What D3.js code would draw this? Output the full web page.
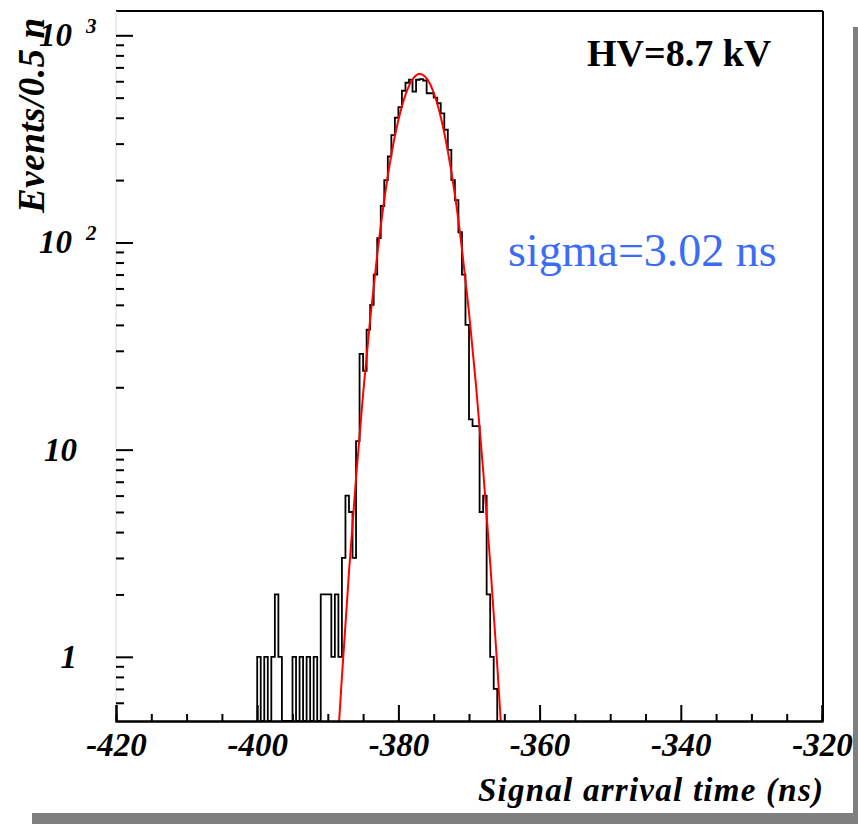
<!DOCTYPE html>
<html lang="en">
<head>
<meta charset="UTF-8">
<title>Signal arrival time</title>
<style>
  body { margin: 0; background: #fff; }
  svg { display: block; }
  text { font-family: "Liberation Serif", "DejaVu Serif", serif; }
</style>
</head>
<body>
<script src="https://cdnjs.cloudflare.com/ajax/libs/d3/7.8.2/d3.min.js"></script>
<script>
// histogram: 0.5 ns bins, first listed bin starts at -400 ns
const binWidth = 0.5;
const firstBinLow = -400;
const counts = [
  1, 0, 1, 0, 1, 2, 1, 0, 0, 0,        // -400 .. -395.5
  1, 0, 1, 0, 1, 0, 1, 0, 2, 2,        // -395 .. -390.5
  2, 1, 2, 1, 3, 6, 5, 3, 11, 29,      // -390 .. -385.5
  24, 38, 50, 70, 105, 150, 200, 260, 330, 400,   // -385 .. -380.5
  450, 540, 590, 610, 535, 610, 615, 605, 525, 525, // -380 .. -375.5
  500, 470, 420, 350, 280, 200, 160, 112, 70, 40,   // -375 .. -370.5
  14, 13, 13, 5, 6, 2, 1, 0.7, 0                    // -370 .. -366
];

// gaussian fit curve
const fitX = [-389, -388, -387, -386, -385, -384, -383, -382, -381, -380, -379, -378, -377,
              -376, -375, -374, -373, -372, -371, -370, -369, -368, -367, -366, -365];
const fitY = [0.23, 0.8, 2.56, 7.3, 18.6, 42.6, 87, 161, 265, 390, 516, 612, 650,
              619, 528, 403, 276, 170, 93, 46, 20.3, 8.0, 2.85, 0.91, 0.26];

const xTicks = [-420, -400, -380, -360, -340, -320];
const xMinorTicks = [-415, -410, -405, -395, -390, -385, -375, -370, -365, -355, -350, -345, -335, -330, -325];
const yDecades = [1, 10, 100, 1000];
const yLabelBase = ["1", "10", "10", "10"];
const yLabelExp = ["", "", "2", "3"];
const yMinorTicks = [0.6, 0.7, 0.8, 0.9, 2, 3, 4, 5, 6, 7, 8, 9,
                     20, 30, 40, 50, 60, 70, 80, 90, 200, 300, 400, 500, 600, 700, 800, 900];

const W = 858, H = 824;
const fLeft = 116, fRight = 822, fTop = 11, fBottom = 721;

const svg = d3.select("body").append("svg")
  .attr("width", W)
  .attr("height", H);

// pad shadow
svg.append("rect").attr("x", 853).attr("y", 27).attr("width", 5).attr("height", H - 27).attr("fill", "#7f7f7f");
svg.append("rect").attr("x", 32).attr("y", 813).attr("width", W - 32).attr("height", 11).attr("fill", "#7f7f7f");

const x = d3.scaleLinear().domain([-420, -320]).range([fLeft, fRight]);
const y = d3.scaleLog().domain([0.49, 1310]).range([fBottom, fTop]);

svg.append("defs").append("clipPath").attr("id", "frame")
  .append("rect").attr("x", fLeft).attr("y", fTop).attr("width", fRight - fLeft + 1).attr("height", fBottom - fTop);

// histogram outline
const pts = [[x(firstBinLow), fBottom]];
counts.forEach((c, i) => {
  const lo = firstBinLow + i * binWidth;
  const yy = c > 0 ? y(c) : fBottom;
  pts.push([x(lo), yy], [x(lo + binWidth), yy]);
});
pts.push([x(firstBinLow + counts.length * binWidth), fBottom]);

const plot = svg.append("g").attr("clip-path", "url(#frame)");
plot.append("path")
  .attr("d", d3.line()(pts))
  .attr("fill", "none")
  .attr("stroke", "#000")
  .attr("stroke-width", 1.8);

// fit
plot.append("path")
  .datum(fitX.map((v, i) => [v, fitY[i]]))
  .attr("d", d3.line().x(d => x(d[0])).y(d => y(d[1])).curve(d3.curveMonotoneX))
  .attr("fill", "none")
  .attr("stroke", "#ff0000")
  .attr("stroke-width", 2);

// frame: top and right black, left faint
svg.append("line").attr("x1", fLeft).attr("x2", fRight + 1).attr("y1", fTop).attr("y2", fTop).attr("stroke", "#000").attr("stroke-width", 2);
svg.append("line").attr("x1", fRight + 1).attr("x2", fRight + 1).attr("y1", fTop).attr("y2", fBottom).attr("stroke", "#000").attr("stroke-width", 2);
svg.append("line").attr("x1", fLeft).attr("x2", fLeft).attr("y1", fTop).attr("y2", fBottom).attr("stroke", "#d8d8d8").attr("stroke-width", 1);

// x axis
const gx = svg.append("g").attr("transform", `translate(0,${fBottom})`);
gx.call(d3.axisBottom(x).tickValues(xMinorTicks).tickSize(-7).tickFormat(""));
gx.call(g => g.append("g").call(d3.axisBottom(x).tickValues(xTicks).tickSize(-16).tickPadding(12).tickFormat(d => String(d))));
gx.selectAll(".domain").attr("stroke", "#000").attr("stroke-width", 2);
gx.selectAll(".tick line").attr("stroke", "#000").attr("stroke-width", 2);
gx.selectAll(".tick text")
  .attr("font-family", "'Liberation Serif', serif")
  .attr("font-style", "italic")
  .attr("font-weight", "bold")
  .attr("font-size", 33)
  .attr("fill", "#000");

// y axis (ticks inside)
const gy = svg.append("g").attr("transform", `translate(${fLeft},0)`);
gy.call(d3.axisLeft(y).tickValues(yMinorTicks).tickSize(-8).tickFormat(""));
gy.call(g => g.append("g").call(d3.axisLeft(y).tickValues(yDecades).tickSize(-17).tickFormat("")));
gy.selectAll(".domain").remove();
gy.selectAll(".tick line").attr("stroke", "#000").attr("stroke-width", 2);

const yl = svg.append("g")
  .attr("font-style", "italic")
  .attr("font-weight", "bold")
  .attr("font-size", 33);
yDecades.forEach((d, i) => {
  yl.append("text")
    .attr("x", yLabelExp[i] ? 72 : 77)
    .attr("y", y(d) + 11)
    .attr("text-anchor", "end")
    .text(yLabelBase[i]);
  if (yLabelExp[i]) {
    yl.append("text")
      .attr("x", 86)
      .attr("y", y(d) - 2)
      .attr("font-size", 21)
      .text(yLabelExp[i]);
  }
});

// axis titles
svg.append("text")
  .attr("x", 823).attr("y", 801)
  .attr("text-anchor", "end")
  .attr("font-style", "italic")
  .attr("font-weight", "bold")
  .attr("font-size", 33)
  .attr("textLength", 345)
  .attr("lengthAdjust", "spacing")
  .text("Signal arrival time (ns)");

svg.append("text")
  .attr("transform", "translate(44,18) rotate(-90)")
  .attr("text-anchor", "end")
  .attr("font-style", "italic")
  .attr("font-weight", "bold")
  .attr("font-size", 37)
  .attr("textLength", 195)
  .attr("lengthAdjust", "spacing")
  .text("Events/0.5 n");

// annotations
svg.append("text")
  .attr("x", 587).attr("y", 66)
  .attr("font-weight", "bold")
  .attr("font-size", 38)
  .text("HV=8.7 kV");

svg.append("text")
  .attr("x", 508).attr("y", 266)
  .attr("font-size", 46)
  .attr("fill", "#3a6cf4")
  .text("sigma=3.02 ns");
</script>
</body>
</html>
